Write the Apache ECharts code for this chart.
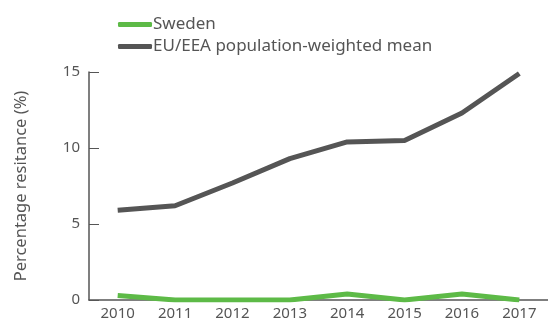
<!DOCTYPE html>
<html><head><meta charset="utf-8">
<script src="https://cdn.jsdelivr.net/npm/echarts@6/dist/echarts.min.js"></script>
<style>html,body{margin:0;padding:0;background:#fff}#c{width:548px;height:322px}</style>
</head><body><div id="c"></div>
<script>
const years = ['2010','2011','2012','2013','2014','2015','2016','2017'];
const sweden = [0.3, 0, 0, 0, 0.4, 0, 0.4, 0];
const euMean = [5.9, 6.2, 7.7, 9.3, 10.4, 10.5, 12.3, 14.9];
const yTicks = [0, 5, 10, 15];

const chart = echarts.init(document.getElementById('c'));
const font = 'Noto Sans';
chart.setOption({
  animation: false,
  textStyle: {fontFamily: font},
  legend: {
    orient: 'vertical', left: 113, top: 11, itemGap: 5,
    itemWidth: 34, itemHeight: 5, icon: 'roundRect',
    textStyle: {fontSize: 17, color: '#555', fontFamily: font, padding: [0,0,0,-4]},
    data: ['Sweden', 'EU/EEA population-weighted mean']
  },
  grid: {left: 89, right: -10, top: 72, bottom: 22, containLabel: false},
  xAxis: {
    type: 'category', data: years, boundaryGap: true,
    axisLine: {lineStyle: {color: '#555', width: 1.5}},
    axisTick: {inside: true, length: 5, lineStyle: {color: '#555'}},
    axisLabel: {color: '#555', fontSize: 15, margin: 6, fontFamily: font}
  },
  yAxis: {
    type: 'value', min: yTicks[0], max: yTicks[yTicks.length-1], interval: 5,
    name: 'Percentage resitance (%)', nameLocation: 'middle', nameGap: 59,
    nameTextStyle: {color: '#555', fontSize: 16.5, fontFamily: font},
    axisLine: {show: true, lineStyle: {color: '#555', width: 1.5}},
    axisTick: {show: true, inside: true, length: 10, lineStyle: {color: '#555'}},
    axisLabel: {color: '#555', fontSize: 15, margin: 9, fontFamily: font},
    splitLine: {show: false}
  },
  series: [
    {name: 'Sweden', type: 'line', data: sweden, showSymbol: false,
     lineStyle: {color: '#5dba47', width: 5}, itemStyle: {color: '#5dba47'}, z: 3},
    {name: 'EU/EEA population-weighted mean', type: 'line', data: euMean, showSymbol: false,
     lineStyle: {color: '#555555', width: 5}, itemStyle: {color: '#555555'}, z: 2}
  ]
});
</script></body></html>
